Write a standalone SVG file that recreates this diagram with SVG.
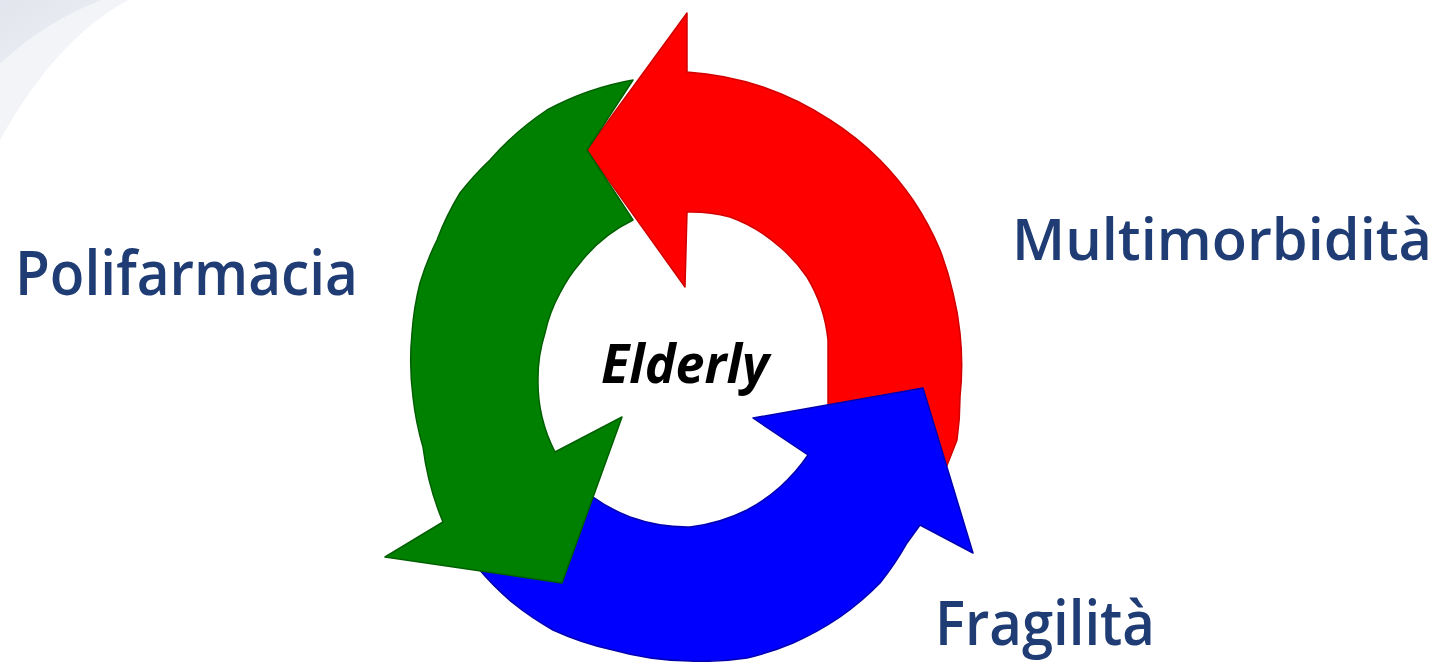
<svg xmlns="http://www.w3.org/2000/svg" width="1445" height="662" viewBox="0 0 1445 662">
  <defs>
    <linearGradient id="swoosh" x1="0" y1="0" x2="1" y2="1">
      <stop offset="0" stop-color="#e2e5ed"/>
      <stop offset="1" stop-color="#eef0f5"/>
    </linearGradient>
    <style>
      .lbl { font-family: "Open Sans", "Noto Sans", "Liberation Sans", sans-serif; font-weight: 600; fill: #1f3d74; font-size: 62px; }
      .center { font-family: "Open Sans", "Noto Sans", "Liberation Sans", sans-serif; font-weight: 700; font-style: italic; fill: #000; font-size: 54px; }
      .arrow { stroke-width: 1.5; stroke-linejoin: round; }
    </style>
  </defs>
  <rect width="1445" height="662" fill="#ffffff"/>
  <g id="background">
    <path d="M0,0 L102,0 Q45,22 0,64 Z" fill="url(#swoosh)"/>
    <path d="M0,64 Q45,22 102,0 L128,0 Q55,40 0,140 Z" fill="#f3f4f8"/>
  </g>
  <g id="connectors">
    <g id="arrow-red">
      <path class="arrow" fill="#ff0000" stroke="#d00000" d="M587,150 L687,13 L687,72 A300,300 0 0 1 763,87 A300,300 0 0 1 830,120 A300,300 0 0 1 880,160 A300,300 0 0 1 913,200 A300,300 0 0 1 940,250 A300,300 0 0 1 953,293 A300,300 0 0 1 960,333 A300,300 0 0 1 960,397 A300,300 0 0 1 957,440 L946,468 L900,440 L828,420 L828,340 A150,150 0 0 0 807,277 A150,150 0 0 0 780,247 A150,150 0 0 0 730,217 A150,150 0 0 0 687,212 L685,287 Z"/>
    </g>
    <g id="arrow-blue">
      <path class="arrow" fill="#0000ff" stroke="#0000b0" d="M923,388 L973,553 L920,525 L907,543 A290,290 0 0 1 880,583 A290,290 0 0 1 840,617 A290,290 0 0 1 793,643 A290,290 0 0 1 747,658 A290,290 0 0 1 690,661 A290,290 0 0 1 613,650 A290,290 0 0 1 553,630 A290,290 0 0 1 513,603 A290,290 0 0 1 478,568 L585,490 L593,497 A170,170 0 0 0 630,517 A170,170 0 0 0 690,527 A170,170 0 0 0 747,510 A170,170 0 0 0 780,487 A170,170 0 0 0 808,455 L753,418 Z"/>
    </g>
    <g id="arrow-green">
      <path class="arrow" fill="#008000" stroke="#006000" d="M633,80 L587,150 L633,220 A150,150 0 0 0 580,263 A150,150 0 0 0 560,293 A150,150 0 0 0 545,333 A150,150 0 0 0 538,380 A150,150 0 0 0 542,417 A150,150 0 0 0 555,452 L622,417 L562,583 L385,557 L443,522 A285,285 0 0 1 423,447 A285,285 0 0 1 413,397 A285,285 0 0 1 412,333 A285,285 0 0 1 420,283 A285,285 0 0 1 437,240 A285,285 0 0 1 460,193 A285,285 0 0 1 490,160 A285,285 0 0 1 547,110 A285,285 0 0 1 633,80 Z"/>
    </g>
  </g>
  <g id="node-elderly">
    <text class="center" x="601" y="383" textLength="168" lengthAdjust="spacingAndGlyphs">Elderly</text>
  </g>
  <g id="node-polifarmacia">
    <text class="lbl" x="15" y="295" textLength="343" lengthAdjust="spacingAndGlyphs">Polifarmacia</text>
  </g>
  <g id="node-multimorbidita">
    <text class="lbl" x="1012" y="260" style="font-size:58px" textLength="420" lengthAdjust="spacingAndGlyphs">Multimorbidità</text>
  </g>
  <g id="node-fragilita">
    <text class="lbl" x="935" y="645" textLength="220" lengthAdjust="spacingAndGlyphs">Fragilità</text>
  </g>
</svg>
